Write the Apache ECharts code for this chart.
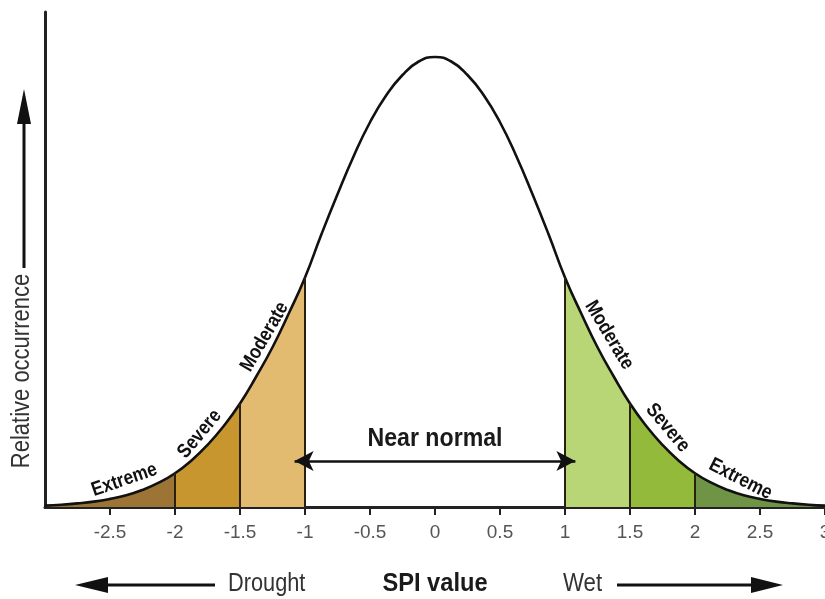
<!DOCTYPE html>
<html><head><meta charset="utf-8">
<script src="https://cdn.jsdelivr.net/npm/echarts@6/dist/echarts.min.js"></script>
<style>html,body{margin:0;padding:0;background:#fff}#c{width:825px;height:599px}</style>
</head><body><div id="c"></div>
<script>
// SPI values (x) and relative occurrence (peak = 100)
const spi = [-3,-2.875,-2.75,-2.625,-2.5,-2.375,-2.25,-2.125,-2,-1.875,-1.75,-1.625,-1.5,-1.375,-1.25,-1.125,-1,-0.875,-0.75,-0.625,-0.5,-0.375,-0.25,-0.125,
             0,0.125,0.25,0.375,0.5,0.625,0.75,0.875,1,1.125,1.25,1.375,1.5,1.625,1.75,1.875,2,2.125,2.25,2.375,2.5,2.625,2.75,2.875,3];
const occurrence = [0.3,0.5,0.8,1.2,1.8,2.6,3.8,5.4,7.5,10.3,13.8,18,23,29,35.5,43,51,60.5,69.5,78,85.5,91.5,96,99,
                    100,99,96,91.5,85.5,78,69.5,60.5,51,43,35.5,29,23,18,13.8,10.3,7.5,5.4,3.8,2.6,1.8,1.2,0.8,0.5,0.3];
// shaded classes
const zoneNames = ['Extreme','Severe','Moderate','Moderate','Severe','Extreme'];
const zoneFrom = [-3,-2,-1.5,1,1.5,2];
const zoneTo = [-2,-1.5,-1,1.5,2,3];
const classBounds = [-2,-1.5,-1,1,1.5,2];
const nearNormal = 'Near normal';

const zoneColors = ['#9c7436','#c8962e','#e2bb70','#b8d675','#93ba3a','#6f9446'];
const FONT = "'Liberation Sans',Arial,sans-serif";
// label placement (annotation layout): [x, y, rotation deg]
const labelAt = [[-2.39,6.0,19],[-1.81,16.2,50],[-1.31,37.8,60],[1.34,38.2,-59],[1.79,17.6,-50],[2.35,6.2,-27]];

const pts = spi.map((x,i)=>[x,occurrence[i]]);
const occAt = x => occurrence[spi.indexOf(x)];

const series = [];
zoneFrom.forEach((a,k)=>{
  series.push({
    type:'line', smooth:true, symbol:'none', silent:true, z:1,
    data: pts.filter(p=>p[0]>=a-1e-9 && p[0]<=zoneTo[k]+1e-9),
    lineStyle:{width:0}, areaStyle:{color:zoneColors[k], opacity:1}
  });
});
series.push({
  type:'line', data:[], z:3, silent:true,
  markLine:{
    silent:true, symbol:'none', animation:false,
    lineStyle:{color:'#2a2010', width:2, type:'solid'},
    label:{show:false},
    data: classBounds.map(b=>[{coord:[b,0]},{coord:[b,occAt(b)]}])
  }
});
series.push({
  type:'line', smooth:true, symbol:'none', silent:true, z:4,
  data: pts, lineStyle:{color:'#111', width:2.6}
});
series.push({
  type:'line', data:[], z:5, silent:true,
  markLine:{
    silent:true, animation:false,
    symbol:['arrow','arrow'], symbolSize:[15,19],
    lineStyle:{color:'#111', width:2.5, type:'solid'},
    label:{show:false},
    data:[[{coord:[-1.08,10.2]},{coord:[1.08,10.2]}]]
  }
});

const chart = echarts.init(document.getElementById('c'), null, {renderer:'canvas'});
chart.setOption({
  animation:false,
  backgroundColor:'#fff',
  grid:{left:45, right:0, top:12, bottom:92, containLabel:false, outerBoundsMode:'none'},
  xAxis:{type:'value', min:-3, max:3, interval:0.5,
    axisLine:{show:true, onZero:false, lineStyle:{color:'#222', width:3}},
    axisTick:{show:true, length:8, lineStyle:{color:'#222', width:2}},
    axisLabel:{showMinLabel:false, fontFamily:FONT, fontSize:19, color:'#555', margin:16},
    splitLine:{show:false}},
  yAxis:{type:'value', min:0, max:110,
    axisLine:{show:true, onZero:false, lineStyle:{color:'#222', width:3}},
    axisTick:{show:false}, axisLabel:{show:false}, splitLine:{show:false}},
  series
});

const g = [
  {type:'line', shape:{x1:24,y1:268,x2:24,y2:118}, style:{stroke:'#111', lineWidth:3}},
  {type:'polygon', shape:{points:[[24,89],[17,124],[31,124]]}, style:{fill:'#111'}},
  {type:'text', x:22, y:371, rotation:Math.PI/2, scaleX:0.88,
    style:{text:'Relative occurrence', fontFamily:FONT, fontSize:25, fill:'#333', align:'center', verticalAlign:'middle'}},
  {type:'line', shape:{x1:104,y1:585,x2:215,y2:585}, style:{stroke:'#111', lineWidth:3}},
  {type:'polygon', shape:{points:[[75,585],[108,577],[108,593]]}, style:{fill:'#111'}},
  {type:'text', x:228, y:584, scaleX:0.87,
    style:{text:'Drought', fontFamily:FONT, fontSize:25, fill:'#333', align:'left', verticalAlign:'middle'}},
  {type:'text', x:435, y:584, scaleX:0.91,
    style:{text:'SPI value', fontFamily:FONT, fontWeight:'bold', fontSize:26, fill:'#1a1a1a', align:'center', verticalAlign:'middle'}},
  {type:'text', x:563, y:584, scaleX:0.89,
    style:{text:'Wet', fontFamily:FONT, fontSize:25, fill:'#333', align:'left', verticalAlign:'middle'}},
  {type:'line', shape:{x1:617,y1:585,x2:755,y2:585}, style:{stroke:'#111', lineWidth:3}},
  {type:'polygon', shape:{points:[[783,585],[751,577],[751,593]]}, style:{fill:'#111'}}
];
const nn = chart.convertToPixel({gridIndex:0}, [0,10.2]);
g.push({type:'text', x:nn[0], y:nn[1]-22, scaleX:0.89, z:10,
  style:{text:nearNormal, fontFamily:FONT, fontWeight:'bold', fontSize:26, fill:'#1a1a1a', align:'center', verticalAlign:'middle'}});
zoneNames.forEach((n,k)=>{
  const p = chart.convertToPixel({gridIndex:0}, [labelAt[k][0], labelAt[k][1]]);
  g.push({type:'text', x:p[0], y:p[1], rotation:labelAt[k][2]*Math.PI/180, scaleX:0.86, z:10,
    style:{text:n, fontFamily:FONT, fontWeight:'bold', fontSize:20, fill:'#111', align:'center', verticalAlign:'middle'}});
});
chart.setOption({graphic:g});
</script></body></html>
